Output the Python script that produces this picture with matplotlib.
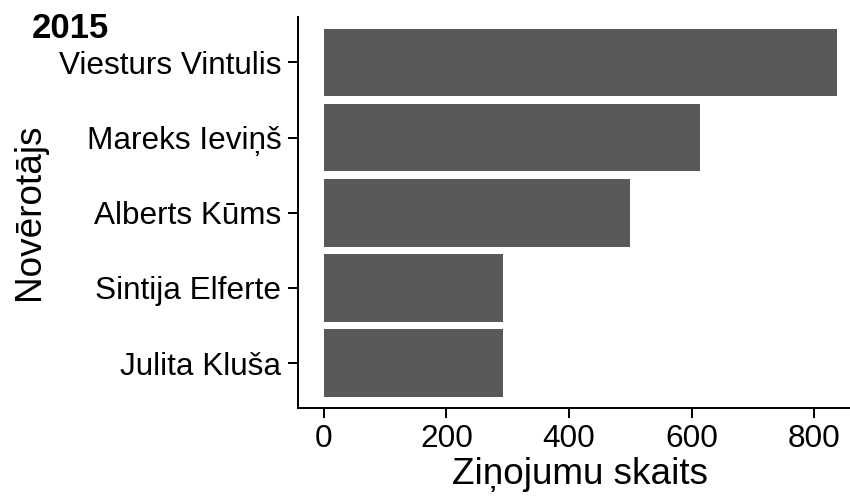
import matplotlib
matplotlib.use("Agg")
import matplotlib.pyplot as plt

names = ["Julita Kluša", "Sintija Elferte", "Alberts Kūms", "Mareks Ieviņš", "Viesturs Vintulis"]
counts = [292, 293, 499, 614, 838]
xticks = [0, 200, 400, 600, 800]
title = "2015"
xlabel = "Ziņojumu skaits"
ylabel = "Novērotājs"

plt.rcParams['font.family'] = ['Liberation Sans', 'DejaVu Sans']
W, H = 850, 499
fig = plt.figure(figsize=(W/100, H/100), dpi=100)
left, right, top, bottom = 298.3, 863.0, 17.3, 408.3
ax = fig.add_axes([left/W, 1-bottom/H, (right-left)/W, (bottom-top)/H])

pos = list(range(1, len(names)+1))
ax.barh(pos, counts, height=0.9, color="#595959")
mx = max(counts)
ax.set_xlim(-0.05*mx, 1.05*mx)
ax.set_ylim(0.4, len(names)+0.6)
ax.set_yticks(pos)
ax.set_yticklabels(names)
ax.set_xticks(xticks)
ax.set_xticklabels([str(t) for t in xticks])

for s in ['top', 'right']:
    ax.spines[s].set_visible(False)
for s in ['left', 'bottom']:
    ax.spines[s].set_linewidth(1.44)
    ax.spines[s].set_color('black')
ax.tick_params(axis='both', length=7.2, width=1.44, colors='black', labelsize=22.7)
ax.tick_params(axis='y', pad=5)
ax.tick_params(axis='x', pad=4)

fig.text(30/W, 1-212/H, ylabel, rotation=90, ha='center', va='center', fontsize=26.6)
fig.text(580/W, 1-475/H, xlabel, ha='center', va='center', fontsize=26.6)
fig.text(32/W, 1-38.5/H, title, ha='left', va='baseline', fontsize=25, fontweight='bold')

fig.savefig("out.png", dpi=100)
